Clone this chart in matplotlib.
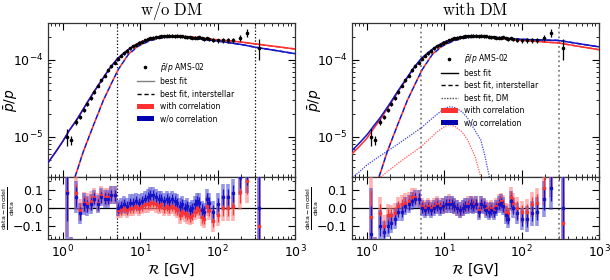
import numpy as np
import matplotlib
matplotlib.use("Agg")
import matplotlib.pyplot as plt
from matplotlib.patches import Patch
from matplotlib.lines import Line2D

# ---------------- data ----------------
rig = [1.12, 1.27, 1.48, 1.66, 1.86, 2.03, 2.27, 2.53, 2.82, 3.13, 3.46, 3.83, 4.22, 4.65,
       5.12, 5.63, 6.18, 6.77, 7.42, 8.11, 8.86, 9.67, 10.5, 11.5, 12.5, 13.5, 14.7, 15.9,
       17.3, 18.7, 20.3, 21.9, 23.7, 25.7, 27.7, 29.9, 32.3, 34.8, 37.5, 40.4, 43.5, 46.8,
       50.3, 54.1, 58.2, 62.5, 67.2, 72.3, 77.6, 86.5, 100, 116, 136, 160, 193, 238, 340]
ratio_e4 = [0.100, 0.090, 0.155, 0.180, 0.220, 0.265, 0.320, 0.380, 0.460, 0.540, 0.620, 0.730,
            0.820, 0.920, 1.03, 1.12, 1.21, 1.30, 1.40, 1.49, 1.57, 1.66, 1.72, 1.78, 1.84, 1.89,
            1.93, 1.97, 2.00, 2.01, 2.03, 2.04, 2.04, 2.04, 2.03, 2.04, 2.02, 2.01, 1.98, 1.95,
            1.95, 1.94, 1.93, 1.92, 1.96, 1.90, 1.86, 1.89, 1.84, 1.82, 1.78, 1.78, 1.78, 1.80,
            1.93, 2.24, 1.43]
rel_err = [0.25, 0.14, 0.09, 0.06, 0.06, 0.055, 0.055, 0.05, 0.05, 0.05, 0.05, 0.05, 0.05, 0.05,
           0.045, 0.045, 0.045, 0.045, 0.045, 0.045, 0.045, 0.045, 0.045, 0.045, 0.045, 0.045,
           0.045, 0.045, 0.045, 0.045, 0.045, 0.045, 0.045, 0.045, 0.045, 0.045, 0.045, 0.045,
           0.045, 0.045, 0.045, 0.045, 0.045, 0.045, 0.05, 0.05, 0.05, 0.055, 0.055, 0.06, 0.06,
           0.07, 0.07, 0.08, 0.10, 0.12, 0.30]

# residuals (data-model)/data
res_L_red = [0.09, -0.30, 0.08, -0.01, 0.03, 0.03, 0.04, 0.06, 0.03, 0.07, 0.06, 0.06, 0.07, 0.07,
             -0.01, -0.01, 0.00, -0.01, 0.00, 0.00, 0.01, 0.00, 0.01, 0.02, 0.02, 0.03, 0.03, 0.02,
             0.01, 0.02, 0.00, 0.01, 0.00, 0.01, 0.00, -0.01, -0.04, -0.02, -0.03, -0.04, -0.05,
             -0.04, -0.02, 0.00, -0.01, -0.05, -0.06, 0.01, -0.01, -0.07, -0.04, 0.00, 0.00, 0.01,
             0.09, 0.15, -0.10]
res_L_blue = [0.08, -0.30, 0.06, -0.03, 0.02, 0.01, 0.02, 0.05, 0.02, 0.06, 0.05, 0.05, 0.07, 0.07,
              0.00, 0.01, 0.02, 0.01, 0.03, 0.03, 0.04, 0.03, 0.04, 0.05, 0.06, 0.07, 0.07, 0.06,
              0.05, 0.05, 0.04, 0.05, 0.04, 0.05, 0.04, 0.03, 0.01, 0.02, 0.00, 0.01, -0.01, 0.00,
              0.02, 0.04, 0.03, -0.01, -0.02, 0.05, 0.03, -0.02, 0.02, 0.06, 0.06, 0.08, 0.17,
              0.20, 0.00]
res_R_red = [-0.05, -0.30, -0.03, -0.10, -0.04, -0.04, -0.03, 0.01, 0.02, 0.03, 0.04, 0.06, 0.06,
             0.05, 0.01, 0.00, 0.01, 0.00, 0.01, 0.02, 0.01, 0.01, 0.02, 0.03, 0.02, 0.01, 0.00,
             -0.01, 0.00, 0.01, 0.02, 0.02, 0.02, 0.02, -0.01, 0.02, 0.01, 0.00, -0.01, 0.00,
             -0.01, 0.01, 0.03, 0.04, 0.02, -0.02, -0.03, 0.06, 0.03, 0.00, -0.02, -0.02, 0.02,
             0.03, 0.11, 0.18, -0.08]
res_R_blue = [-0.14, -0.30, -0.10, -0.13, -0.10, -0.08, -0.06, -0.02, -0.02, 0.01, 0.02, 0.04,
              0.05, 0.05, 0.00, -0.01, 0.00, -0.01, 0.00, 0.01, 0.00, 0.01, 0.02, 0.02, 0.02,
              0.01, 0.00, -0.01, 0.00, 0.01, 0.01, 0.02, 0.01, 0.02, -0.02, 0.02, 0.01, -0.01,
              -0.02, -0.01, -0.02, 0.00, 0.02, 0.03, 0.01, -0.04, -0.06, 0.04, 0.00, -0.03, -0.06,
              -0.06, -0.03, -0.02, 0.05, 0.11, 0.00]

# model curves (values x1e-4) at these rigidities
curve_R = [0.64, 0.8, 1.0, 1.2, 1.5, 2.0, 2.5, 3.0, 4.0, 5.0, 6.0, 7.0, 8.0, 10, 12.7, 16, 20,
           25, 30, 40, 50, 70, 100, 200, 300, 1000]
fit_L_red = [0.046, 0.063, 0.088, 0.120, 0.165, 0.265, 0.38, 0.50, 0.77, 1.02, 1.20, 1.36, 1.50,
             1.70, 1.85, 1.96, 2.02, 2.04, 2.03, 1.99, 1.95, 1.88, 1.81, 1.70, 1.61, 1.38]
fit_L_blue = [0.046, 0.063, 0.088, 0.120, 0.165, 0.265, 0.38, 0.50, 0.77, 1.02, 1.20, 1.35, 1.48,
              1.67, 1.82, 1.93, 1.98, 2.00, 1.99, 1.95, 1.91, 1.83, 1.75, 1.58, 1.46, 1.20]
fit_R_red = [0.060, 0.075, 0.096, 0.125, 0.170, 0.265, 0.38, 0.50, 0.77, 1.02, 1.20, 1.36, 1.50,
             1.70, 1.85, 1.96, 2.02, 2.03, 2.02, 1.97, 1.92, 1.85, 1.78, 1.70, 1.65, 1.35]
fit_R_blue = [0.066, 0.083, 0.106, 0.135, 0.180, 0.275, 0.39, 0.51, 0.78, 1.03, 1.21, 1.37, 1.50,
              1.70, 1.85, 1.96, 2.02, 2.03, 2.02, 1.98, 1.94, 1.88, 1.84, 1.80, 1.78, 1.47]
ism_R = [1.3, 1.43, 1.84, 2.47, 3.34, 4.5, 5.2, 7.0, 9.4, 12.7, 17, 25, 30, 40, 50, 70, 100, 200,
         300, 1000]
ism_L_red = [0.022, 0.030, 0.065, 0.14, 0.30, 0.56, 0.75, 1.18, 1.52, 1.76, 1.92, 2.01, 2.02,
             1.99, 1.95, 1.88, 1.81, 1.70, 1.61, 1.38]
ism_L_blue = [0.022, 0.030, 0.065, 0.14, 0.30, 0.56, 0.75, 1.17, 1.50, 1.73, 1.89, 1.97, 1.98,
              1.95, 1.91, 1.83, 1.75, 1.58, 1.46, 1.20]
ism_R_red = [0.022, 0.030, 0.065, 0.14, 0.30, 0.56, 0.75, 1.18, 1.52, 1.76, 1.92, 2.01, 2.02,
             1.97, 1.92, 1.85, 1.78, 1.70, 1.65, 1.35]
ism_R_blue = [0.022, 0.030, 0.065, 0.14, 0.30, 0.56, 0.75, 1.17, 1.50, 1.73, 1.89, 1.97, 1.98,
              1.96, 1.93, 1.87, 1.84, 1.80, 1.78, 1.47]
dm_R = [0.62, 1.0, 1.5, 2.5, 5.0, 8.0, 10.0, 11.5, 12.1, 14.0, 17.0, 20.0, 25.0, 29.6, 33.0, 37.0, 42.0]
dm_red = [0.010, 0.016, 0.030, 0.045, 0.074, 0.115, 0.135, 0.143, 0.142, 0.135, 0.115, 0.091, 0.055,
          0.030, 0.015, 0.008, 0.004]
dm_blue = [0.028, 0.043, 0.057, 0.080, 0.130, 0.195, 0.232, 0.245, 0.245, 0.238, 0.210, 0.175,
           0.120, 0.091, 0.060, 0.035, 0.020]

titles = ["w/o DM", "with DM"]

RED = "#ff3030"
BLUE = "#1414c8"

plt.rcParams["font.family"] = ["DejaVu Sans"]
plt.rcParams["mathtext.fontset"] = "dejavusans"

fig = plt.figure(figsize=(6.1, 2.8), dpi=100)

W, H = 610.0, 280.0
lefts = [48, 352]
width = 247
top_y, mid_y, bot_y = 23, 177, 239

R = np.array(rig)
Y = np.array(ratio_e4) * 1e-4
E = np.array(rel_err)

def e4(a):
    return np.array(a) * 1e-4

DASH = (0, (3, 2))

panels = [
    dict(fr=fit_L_red, fb=fit_L_blue, ir=ism_L_red, ib=ism_L_blue, rr=res_L_red, rb=res_L_blue,
         dm=False, vcol="black", vlw=0.9, fitleg="0.5"),
    dict(fr=fit_R_red, fb=fit_R_blue, ir=ism_R_red, ib=ism_R_blue, rr=res_R_red, rb=res_R_blue,
         dm=True, vcol="0.5", vlw=1.3, fitleg="black"),
]

for i, p in enumerate(panels):
    x0 = lefts[i] / W
    ax = fig.add_axes([x0, 1 - mid_y / H, width / W, (mid_y - top_y) / H])
    axr = fig.add_axes([x0, 1 - bot_y / H, width / W, (bot_y - mid_y) / H], sharex=ax)

    # curves
    ax.plot(curve_R, e4(p["fr"]), color=RED, lw=1.1, zorder=3)
    ax.plot(curve_R, e4(p["fb"]), color=BLUE, lw=1.1, zorder=3)
    ax.plot(ism_R, e4(p["ir"]), color=RED, lw=1.1, ls=DASH, zorder=3)
    ax.plot(ism_R, e4(p["ib"]), color=BLUE, lw=1.1, ls=(2.5, (3, 2)), zorder=3)
    if p["dm"]:
        ax.plot(dm_R, e4(dm_red), color=RED, lw=0.9, ls=(0, (1, 1)), alpha=0.8, zorder=3)
        ax.plot(dm_R, e4(dm_blue), color=BLUE, lw=0.9, ls=(0, (1, 1)), alpha=0.8, zorder=3)

    # data
    ax.errorbar(R, Y, yerr=Y * E, fmt="o", ms=1.6, color="black", elinewidth=0.9,
                capsize=0, zorder=5)

    for a in (ax, axr):
        a.axvline(5, color=p["vcol"], ls=":", lw=p["vlw"], zorder=2)
        a.axvline(300, color=p["vcol"], ls=":", lw=p["vlw"], zorder=2)

    ax.set_xscale("log")
    ax.set_yscale("log")
    ax.set_xlim(0.64, 1000)
    ax.set_ylim(3.0e-6, 3.0e-4)
    ax.set_ylabel(r"$\bar{p}/p$", fontsize=10)
    ax.yaxis.set_label_coords(-0.115, 0.5)
    ax.set_title(r"$\mathrm{" + titles[i].replace(" ", r"\ ") + "}$", fontsize=12,
                 math_fontfamily="cm", pad=6)
    plt.setp(ax.get_xticklabels(), visible=False)

    # residuals
    for res, col, light in ((p["rr"], RED, "#ff8080"), (p["rb"], BLUE, "#5050d8")):
        res = np.array(res)
        axr.errorbar(R, res, yerr=E, fmt="none", ecolor=light, elinewidth=2.6, alpha=0.6,
                     capsize=0, zorder=3)
        axr.errorbar(R, res, yerr=0.6 * E, fmt="s", ms=1.8, color=col, ecolor=col,
                     elinewidth=0.9, capsize=0, zorder=4)
    axr.axhline(0, color="black", lw=0.9, zorder=2)
    axr.set_ylim(-0.17, 0.17)
    axr.set_yticks([-0.1, 0.0, 0.1])
    axr.set_yticklabels(["\u22120.1", "0.0", "0.1"])
    axr.set_xlabel(r"$\mathcal{R}$ [GV]", fontsize=10, labelpad=1)
    axr.set_ylabel(r"$\frac{\mathrm{data}-\mathrm{model}}{\mathrm{data}}$", fontsize=6.5)
    axr.yaxis.set_label_coords(-0.125, 0.5)

    for a in (ax, axr):
        a.tick_params(which="both", direction="in", top=True, right=True, labelsize=9)
        a.tick_params(which="major", length=5, width=0.8)
        a.tick_params(which="minor", length=2.5, width=0.6)
        for s in a.spines.values():
            s.set_linewidth(0.9)
            s.set_color("0.2")
    axr.yaxis.set_minor_locator(matplotlib.ticker.MultipleLocator(0.05))

    # legend
    handles = [Line2D([], [], color="black", marker="o", ms=1.6, lw=0)]
    labels = [r"$\bar{p}/p$ AMS-02"]
    handles.append(Line2D([], [], color=p["fitleg"], lw=1.0))
    labels.append("best fit")
    handles.append(Line2D([], [], color="black", lw=1.0, ls=DASH))
    labels.append("best fit, interstellar")
    if p["dm"]:
        handles.append(Line2D([], [], color="0.3", lw=1.0, ls=(0, (1, 1))))
        labels.append("best fit, DM")
    handles.append(Patch(facecolor=RED, edgecolor="none"))
    labels.append("with correlation")
    handles.append(Patch(facecolor="#0000b0", edgecolor="none"))
    labels.append("w/o correlation")
    yb = 0.755 if i == 0 else 0.81
    ax.legend(handles, labels, loc="upper left", bbox_to_anchor=(0.36, yb),
              frameon=False, fontsize=5.5, handlelength=2.2, handleheight=0.7,
              handletextpad=0.8, labelspacing=0.45, borderpad=0, borderaxespad=0)

fig.savefig("out.png", dpi=100)
